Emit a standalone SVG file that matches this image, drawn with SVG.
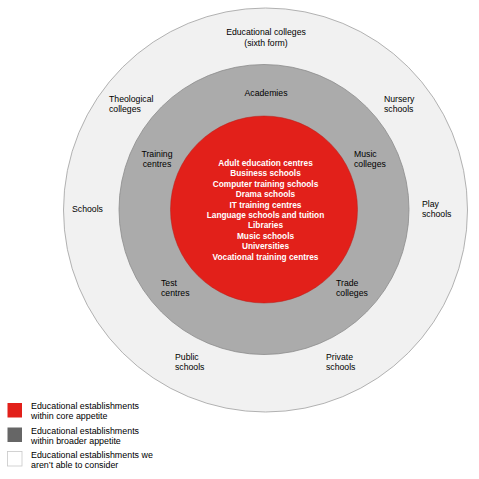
<svg xmlns="http://www.w3.org/2000/svg" width="479" height="479" viewBox="0 0 479 479">
<style>
text{font-family:"Liberation Sans",Arial,sans-serif;font-size:8.7px;fill:#000}
.m{text-anchor:middle}
.w{fill:#ffffff;font-weight:bold;text-anchor:middle;font-size:8.3px}
.lg{font-size:8.9px;fill:#000}
</style>
<rect width="479" height="479" fill="#ffffff"/>
<g id="outer-ring">
<circle cx="265.5" cy="210" r="202" fill="#f1f1f1" stroke="#a0a0a0" stroke-width="0.8"/>
<text class="m" x="266" y="35">Educational colleges</text>
<text class="m" x="266" y="45.5">(sixth form)</text>
<text x="109" y="102">Theological</text>
<text x="109" y="112.4">colleges</text>
<text x="384" y="102">Nursery</text>
<text x="384" y="112.4">schools</text>
<text x="72" y="212">Schools</text>
<text x="422" y="207">Play</text>
<text x="422" y="217.4">schools</text>
<text x="175" y="360">Public</text>
<text x="175" y="370.4">schools</text>
<text x="326" y="360">Private</text>
<text x="326" y="370.4">schools</text>
</g>
<g id="broader-ring">
<circle cx="264" cy="209.5" r="145" fill="#ababab" stroke="#8c8c8c" stroke-width="0.8"/>
<text class="m" x="266" y="96">Academies</text>
<text class="m" x="157" y="157">Training</text>
<text class="m" x="157" y="167.4">centres</text>
<text x="354" y="157">Music</text>
<text x="354" y="167.4">colleges</text>
<text x="161" y="286">Test</text>
<text x="161" y="296.4">centres</text>
<text x="336" y="286">Trade</text>
<text x="336" y="296.4">colleges</text>
</g>
<g id="core">
<circle cx="264" cy="209.5" r="93.5" fill="#e2201a" stroke="#b81a15" stroke-width="0.5"/>
<text class="w" x="265.5" y="166">Adult education centres</text>
<text class="w" x="265.5" y="176.4">Business schools</text>
<text class="w" x="265.5" y="186.8">Computer training schools</text>
<text class="w" x="265.5" y="197.2">Drama schools</text>
<text class="w" x="265.5" y="207.6">IT training centres</text>
<text class="w" x="265.5" y="218">Language schools and tuition</text>
<text class="w" x="265.5" y="228.4">Libraries</text>
<text class="w" x="265.5" y="238.8">Music schools</text>
<text class="w" x="265.5" y="249.2">Universities</text>
<text class="w" x="265.5" y="259.6">Vocational training centres</text>
</g>
<g id="connectors"/>
<g id="legend">
<rect x="7.5" y="403" width="14.5" height="14.5" fill="#e2201a"/>
<text class="lg" x="31" y="409">Educational establishments</text>
<text class="lg" x="31" y="419">within core appetite</text>
<rect x="7.5" y="427.5" width="14.5" height="14.5" fill="#666666"/>
<text class="lg" x="31" y="433.5">Educational establishments</text>
<text class="lg" x="31" y="443.5">within broader appetite</text>
<rect x="7.5" y="451.5" width="14.5" height="14.5" fill="#ffffff" stroke="#c8c8c8" stroke-width="0.8"/>
<text class="lg" x="31" y="457.5">Educational establishments we</text>
<text class="lg" x="31" y="467.5">aren’t able to consider</text>
</g>
</svg>
